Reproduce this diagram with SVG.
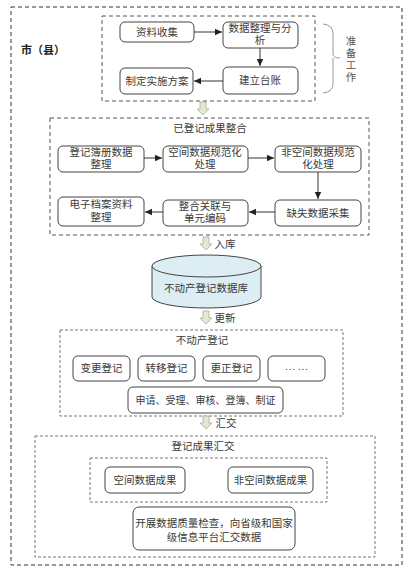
<svg xmlns="http://www.w3.org/2000/svg" width="418" height="571" viewBox="0 0 418 571">
<defs>
<style>
text{font-family:"Liberation Serif","Noto Sans CJK SC",serif;font-size:10.5px;fill:#3a3a3a;text-anchor:middle}
.box{fill:#fff;stroke:#444;stroke-width:1}
.dash{fill:none;stroke:#555;stroke-width:1;stroke-dasharray:4,3}
.dash2{fill:none;stroke:#777;stroke-width:1;stroke-dasharray:3,2}
.ln{stroke:#333;stroke-width:1;fill:none;marker-end:url(#ah)}
.barrow{fill:#e4e7d3;stroke:#a9ad95;stroke-width:0.8}
</style>
<marker id="ah" markerWidth="8" markerHeight="8" refX="7" refY="4" orient="auto" markerUnits="userSpaceOnUse">
<path d="M0,0.8 L7,4 L0,7.2 z" fill="#222"/>
</marker>
<path id="ba" d="M-3,0 h6 v7 h3 l-6,6 l-6,-6 h3 z"/>
</defs>

<rect class="dash" x="11" y="7" width="391" height="558" style="stroke:#333"/>
<text x="43" y="54" style="font-weight:bold;font-size:11px;fill:#222">市（县）</text>

<g id="prep">
<rect class="dash" x="102" y="16" width="213" height="85"/>
<path d="M323,24 Q333,25 333,34 V54 Q333,58 340,58 M333,58 Q333,58 333,62 V84 Q333,92 323,93" fill="none" stroke="#999" stroke-width="1"/>
<text x="351" y="45" style="fill:#555">准</text>
<text x="351" y="57" style="fill:#555">备</text>
<text x="351" y="69" style="fill:#555">工</text>
<text x="351" y="81" style="fill:#555">作</text>
</g>
<g id="n1"><rect class="box" x="120" y="22" width="74" height="20" rx="5"/><text x="157" y="36">资料收集</text></g>
<g id="n2"><rect class="box" x="223" y="22" width="75" height="26" rx="5"/><text x="260" y="32">数据整理与分</text><text x="260" y="44">析</text></g>
<g id="n3"><rect class="box" x="223" y="67" width="75" height="27" rx="5"/><text x="260" y="84">建立台账</text></g>
<g id="n4"><rect class="box" x="120" y="68" width="73" height="26" rx="5"/><text x="157" y="85">制定实施方案</text></g>

<g id="integ">
<rect class="dash" x="50" y="118" width="319" height="117"/>
<text x="210" y="132">已登记成果整合</text>
</g>
<g id="m1"><rect class="box" x="58" y="146" width="86" height="26" rx="5"/><text x="101" y="156">登记簿册数据</text><text x="101" y="168">整理</text></g>
<g id="m2"><rect class="box" x="163" y="146" width="85" height="26" rx="5"/><text x="205" y="156">空间数据规范化</text><text x="205" y="168">处理</text></g>
<g id="m3"><rect class="box" x="275" y="146" width="86" height="26" rx="5"/><text x="318" y="156">非空间数据规范</text><text x="318" y="168">化处理</text></g>
<g id="m4"><rect class="box" x="58" y="197" width="86" height="29" rx="5"/><text x="101" y="208">电子档案资料</text><text x="101" y="221">整理</text></g>
<g id="m5"><rect class="box" x="163" y="200" width="85" height="26" rx="5"/><text x="205" y="210">整合关联与</text><text x="205" y="222">单元编码</text></g>
<g id="m6"><rect class="box" x="275" y="200" width="86" height="26" rx="5"/><text x="318" y="217">缺失数据采集</text></g>

<g id="db">
<path d="M152,266 V297 A54.5,11 0 0 0 261,297 V266" fill="#dcedf3" stroke="#444" stroke-width="1"/>
<ellipse cx="206.5" cy="266" rx="54.5" ry="11" fill="#dcedf3" stroke="#444" stroke-width="1"/>
<text x="206" y="292">不动产登记数据库</text>
</g>

<g id="reg">
<rect class="dash2" x="60" y="330" width="283" height="86"/>
<text x="202" y="344">不动产登记</text>
</g>
<g id="r1"><rect class="box" x="73" y="356" width="57" height="25" rx="5"/><text x="101.5" y="372">变更登记</text></g>
<g id="r2"><rect class="box" x="138" y="356" width="57" height="25" rx="5"/><text x="166.5" y="372">转移登记</text></g>
<g id="r3"><rect class="box" x="203" y="356" width="57" height="25" rx="5"/><text x="231.5" y="372">更正登记</text></g>
<g id="r4"><rect class="box" x="268" y="356" width="57" height="25" rx="5"/><text x="296.5" y="370">… …</text></g>
<g id="r5"><rect class="box" x="128" y="387" width="155" height="26" rx="5"/><text x="205.5" y="404" style="font-size:10px">申请、受理、审核、登簿、制证</text></g>

<g id="sub">
<rect class="dash2" x="35" y="436" width="340" height="121"/>
<text x="203" y="450">登记成果汇交</text>
<rect class="dash2" x="90" y="458" width="237" height="44"/>
</g>
<g id="s1"><rect class="box" x="105" y="467" width="80" height="26" rx="5"/><text x="145" y="484">空间数据成果</text></g>
<g id="s2"><rect class="box" x="228" y="467" width="85" height="26" rx="5"/><text x="270.5" y="484">非空间数据成果</text></g>
<g id="s3"><rect class="box" x="133" y="507" width="162" height="43" rx="6"/><text x="214" y="527">开展数据质量检查，向省级和国家</text><text x="214" y="541">级信息平台汇交数据</text></g>

<g id="connectors">
<line class="ln" x1="194" y1="32" x2="222" y2="32"/>
<line class="ln" x1="260" y1="48" x2="260" y2="66"/>
<line class="ln" x1="223" y1="81" x2="194" y2="81"/>
<line class="ln" x1="144" y1="158" x2="162" y2="158"/>
<line class="ln" x1="248" y1="158" x2="274" y2="158"/>
<line class="ln" x1="318" y1="172" x2="318" y2="199"/>
<line class="ln" x1="275" y1="212" x2="249" y2="212"/>
<line class="ln" x1="163" y1="212" x2="145" y2="212"/>
<use href="#ba" class="barrow" x="203" y="102"/>
<use href="#ba" class="barrow" x="206" y="237"/>
<text x="225" y="248">入库</text>
<use href="#ba" class="barrow" x="206" y="311"/>
<text x="225" y="322">更新</text>
<use href="#ba" class="barrow" x="206" y="416"/>
<text x="226" y="427">汇交</text>
</g>
</svg>
